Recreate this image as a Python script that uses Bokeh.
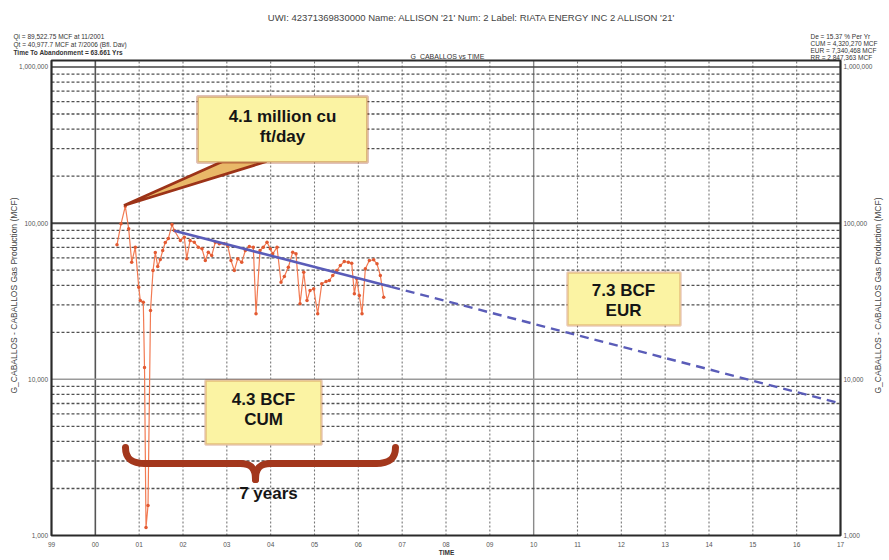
import numpy as np
from bokeh.plotting import figure
from bokeh.models import Range1d, Label, BoxAnnotation
from bokeh.core.properties import value
from bokeh.embed import file_html
from bokeh.resources import INLINE

# ---------------- data ----------------
prod_year = [2000.494, 2000.586, 2000.684, 2000.761, 2000.830, 2000.912, 2000.990, 2001.026, 2001.094, 2001.122,
             2001.156, 2001.202, 2001.259, 2001.316, 2001.368, 2001.423, 2001.482, 2001.537, 2001.596, 2001.665,
             2001.749, 2001.802, 2001.939, 2002.030, 2002.085, 2002.160, 2002.258, 2002.349, 2002.434, 2002.509,
             2002.577, 2002.655, 2002.737, 2002.828, 2002.943, 2003.020, 2003.095, 2003.171, 2003.248, 2003.340,
             2003.422, 2003.513, 2003.604, 2003.666, 2003.757, 2003.832, 2003.917, 2003.992, 2004.047, 2004.145,
             2004.236, 2004.311, 2004.403, 2004.503, 2004.578, 2004.670, 2004.754, 2004.829, 2004.898, 2004.982,
             2005.073, 2005.165, 2005.263, 2005.338, 2005.416, 2005.507, 2005.589, 2005.680, 2005.772, 2005.849,
             2005.909, 2005.963, 2006.023, 2006.084, 2006.160, 2006.251, 2006.351, 2006.426, 2006.502, 2006.579]
gas_mcf = [72600, 99000, 128300, 91900, 56200, 70100, 38900, 31950, 31160, 11900,
           1125, 1556, 27570, 49700, 64830, 52760, 58480, 66770, 75110, 79660,
           97950, 89670, 77370, 81200, 59090, 77370, 75440, 70100, 68470, 57630,
           65110, 62020, 75440, 73700, 73700, 71880, 57630, 49700, 59090, 56200,
           66770, 70820, 70100, 26260, 66770, 70100, 75440, 68470, 63600, 70100,
           41840, 45510, 52220, 65110, 63600, 30430, 48500, 31950, 37030, 37970,
           26260, 40870, 42280, 42910, 46190, 49700, 53540, 56780, 56200, 55370,
           35270, 43990, 34400, 26260, 50990, 57630, 58210, 54880, 46190, 33550]

fit_year = [2001.80, 2006.75]
fit_gas = [89500, 39100]
forecast_year = [2006.75, 2017.0]
forecast_gas = [39100, 7000]

x_ticks = list(range(1999, 2018))
x_tick_labels = ["99", "00", "01", "02", "03", "04", "05", "06", "07", "08",
                 "09", "10", "11", "12", "13", "14", "15", "16", "17"]
y_ticks = [1000, 10000, 100000, 1000000]
y_tick_labels = ["1,000", "10,000", "100,000", "1,000,000"]

# ---------------- layout ----------------
W, H = 889, 560
X0, X1 = 1999, 2017           # plot box, data units
Y0, Y1 = 1000, 1.1e6
BL, BR_, BT, BB = 51, 840, 60, 535   # plot box in page pixels
PXY = (BR_ - BL) / (X1 - X0)
PXD = (BB - BT) / np.log10(Y1 / Y0)


def dx(px):
    return X0 + (px - BL) / PXY


def dy(py):
    return 10 ** (np.log10(Y0) + (BB - py) / PXD)


FONT = "Liberation Sans"

p = figure(width=W, height=H, output_backend="svg", toolbar_location=None,
           x_range=Range1d(dx(0), dx(W)), y_range=Range1d(dy(H), dy(0)),
           y_axis_type="log", x_axis_location=None, y_axis_location=None,
           min_border=0, outline_line_color=None,
           background_fill_color="white", border_fill_color="white")
p.xgrid.grid_line_color = None
p.ygrid.grid_line_color = None

# ---------------- grid of the plot box ----------------
inner_years = x_ticks[1:-1]
dot_years = [yr for yr in inner_years if yr not in (2000, 2010)]
p.segment(x0=dot_years, x1=dot_years, y0=[Y0] * len(dot_years), y1=[Y1] * len(dot_years),
          line_color="#777777", line_width=1.1, line_dash="2 2")
p.segment(x0=[2000], x1=[2000], y0=[Y0], y1=[Y1], line_color="#555555", line_width=1.6)
p.segment(x0=[2010], x1=[2010], y0=[Y0], y1=[Y1], line_color="#8a8a8a", line_width=1.4)

minor_vals = [k * d for d in (1000, 10000, 100000) for k in range(2, 10)]
p.segment(x0=[X0] * len(minor_vals), x1=[X1] * len(minor_vals), y0=minor_vals, y1=minor_vals,
          line_color="#505050", line_width=1.3, line_dash="3 2")
p.segment(x0=[X0], x1=[X1], y0=[100000], y1=[100000], line_color="#444444", line_width=2)
p.segment(x0=[X0], x1=[X1], y0=[10000], y1=[10000], line_color="#9a9a9a", line_width=1.6)
p.segment(x0=[X0], x1=[X1], y0=[1000000], y1=[1000000], line_color="#444444", line_width=1.5)
p.quad(left=[X0], right=[X1], bottom=[Y0], top=[Y1], fill_color=None,
       line_color="#2a2a2a", line_width=2.2)

# tick labels
p.text(x=x_ticks, y=[dy(543.5)] * len(x_ticks), text=x_tick_labels, text_align="center",
       text_baseline="middle", text_font=value(FONT), text_font_size="6.5px", text_color="#555555")
p.text(x=[dx(47.5)] * len(y_ticks), y=y_ticks, text=y_tick_labels, text_align="right",
       text_baseline="middle", text_font=value(FONT), text_font_size="6.5px", text_color="#555555")
p.text(x=[dx(843)] * len(y_ticks), y=y_ticks, text=y_tick_labels, text_align="left",
       text_baseline="middle", text_font=value(FONT), text_font_size="6.5px", text_color="#555555")

# ---------------- data ----------------
p.line(prod_year, gas_mcf, line_color="#F27A52", line_width=1.2)
p.scatter(prod_year, gas_mcf, size=3.5, fill_color="#E25A32", line_color=None)
p.line(fit_year, fit_gas, line_color="#5A5CB8", line_width=2.6)
p.line(forecast_year, forecast_gas, line_color="#5A5CB8", line_width=2.4, line_dash="9 6")

# ---------------- call-outs ----------------
YEL = "#FBF3A3"
p.patch([dx(222), dx(266), dx(123.5)], [dy(161), dy(161), dy(205)],
        fill_color="#E9B868", line_color="#9C3318", line_width=2.8)

boxes = [((197, 96, 367, 162), "#9C3318", 3),
         ((205, 380, 321, 444), "#B24C1E", 2.5),
         ((567, 272, 680, 325), "#BE5628", 2.5)]
for (l, t, r, b), col, lw in boxes:
    p.add_layout(BoxAnnotation(left=dx(l), right=dx(r), top=dy(t), bottom=dy(b),
                               fill_color=YEL, fill_alpha=1.0, line_color=col, line_width=lw))

texts = [("4.1 million cu", 282, 116), ("ft/day", 282, 136),
         ("4.3 BCF", 263, 399), ("CUM", 263, 419),
         ("7.3 BCF", 623, 290), ("EUR", 623, 310),
         ("7 years", 268, 493)]
for s, x, y in texts:
    p.add_layout(Label(x=dx(x), y=dy(y), text=s, text_align="center", text_baseline="middle",
                       text_font=FONT, text_font_style="bold", text_font_size="17px",
                       text_color="#151515"))

# brace
BRC = "#A3371C"
bx0 = [125, 145, 240, 255, 270, 375]
by0 = [447, 463, 463, 479, 463, 463]
bx1 = [145, 240, 255, 270, 375, 395]
by1 = [463, 463, 479, 463, 463, 447]
bcx0 = [125, 145, 251, 255, 270, 388]
bcy0 = [459, 463, 463, 468, 463, 463]
bcx1 = [132, 240, 255, 259, 375, 395]
bcy1 = [463, 463, 468, 463, 463, 459]
p.bezier(x0=[dx(v) for v in bx0], y0=[dy(v) for v in by0], x1=[dx(v) for v in bx1], y1=[dy(v) for v in by1],
         cx0=[dx(v) for v in bcx0], cy0=[dy(v) for v in bcy0], cx1=[dx(v) for v in bcx1],
         cy1=[dy(v) for v in bcy1], line_color=BRC, line_width=7, line_cap="round")


# ---------------- header & axis titles ----------------
def add_text(s, x, y, size="7px", align="left", bold=False, angle=0.0, color="#333333"):
    p.add_layout(Label(x=dx(x), y=dy(y), text=s, text_align=align, text_baseline="middle",
                       text_font=FONT, text_font_size=size,
                       text_font_style="bold" if bold else "normal",
                       text_color=color, angle=angle))


add_text("UWI: 42371369830000   Name: ALLISON '21'   Num: 2  Label: RIATA ENERGY INC 2 ALLISON '21'",
         478, 17, size="9.5px", align="center", color="#444444")
add_text("Qi = 89,522.75 MCF at 11/2001", 13, 36, size="6.5px")
add_text("Qt = 40,977.7 MCF at 7/2006 (Bfl. Dav)", 13, 43.5, size="6.5px")
add_text("Time To Abandonment = 63.661 Yrs", 13, 52, size="6.5px", bold=True)
add_text("G_CABALLOS vs TIME", 447, 56, size="7px", align="center")
add_text("De = 15.37 % Per Yr", 810, 36, size="6.5px")
add_text("CUM = 4,320,270 MCF", 810, 43, size="6.5px")
add_text("EUR = 7,340,468 MCF", 810, 50, size="6.5px")
add_text("RR = 2,847,363 MCF", 810, 57, size="6.5px")
add_text("G_CABALLOS - CABALLOS Gas Production (MCF)", 13, 295, size="8.5px", align="center",
         angle=np.pi / 2, color="#444444")
add_text("G_CABALLOS - CABALLOS Gas Production (MCF)", 877, 295, size="8.5px", align="center",
         angle=np.pi / 2, color="#444444")
add_text("TIME", 446, 552, size="6.5px", align="center", bold=True)

open("out.html", "w").write(file_html(p, INLINE))
